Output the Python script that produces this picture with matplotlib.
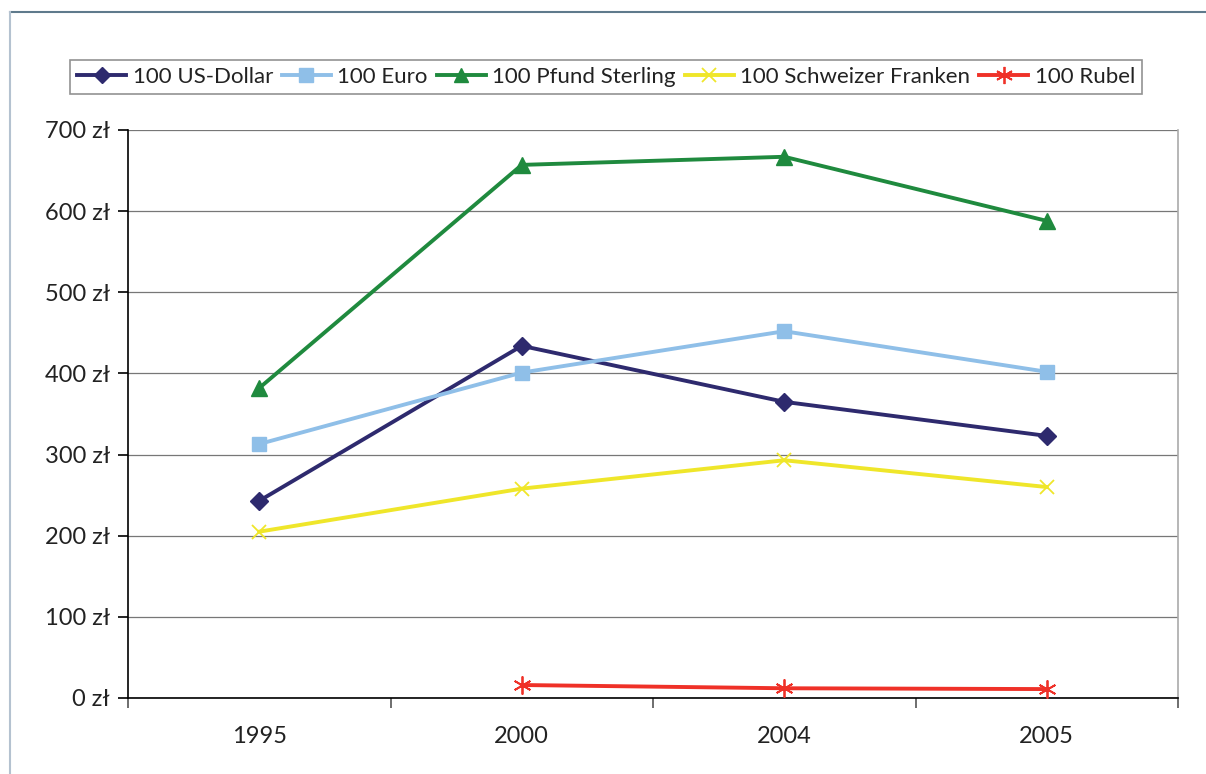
import matplotlib
matplotlib.use("Agg")
import matplotlib.pyplot as plt
from matplotlib.lines import Line2D

plt.rcParams['font.family'] = ['Lato', 'DejaVu Sans']

years = ["1995", "2000", "2004", "2005"]
usd = [243, 434, 365, 323]
eur = [313, 401, 452, 402]
gbp = [382, 657, 667, 588]
chf = [205, 258, 293, 260]
rub = [None, 16, 12, 11]
yticks = [0, 100, 200, 300, 400, 500, 600, 700]

series = [
    ("100 US-Dollar", usd, "#2e2a6e", "D", 9, None),
    ("100 Euro", eur, "#8fbfe8", "s", 10, None),
    ("100 Pfund Sterling", gbp, "#1f8a3e", "^", 11, None),
    ("100 Schweizer Franken", chf, "#efe62a", "x", 10, 1.3),
    ("100 Rubel", rub, "#ef3128", (6, 2, 0), 13, 1.3),
]

fig = plt.figure(figsize=(12.06, 7.74), dpi=100)
ax = fig.add_axes([128/1206, 76/774, 1050/1206, 568/774])

# outer frame lines
fig.add_artist(Line2D([10/1206, 1], [1-12/774, 1-12/774], color="#5f7a8c", lw=1.5, transform=fig.transFigure))
fig.add_artist(Line2D([10/1206, 10/1206], [0, 1-12/774], color="#b4c2d0", lw=1.5, transform=fig.transFigure))

xs = list(range(len(years)))
handles = []
for name, vals, col, mk, ms, mew in series:
    px = [x for x, v in zip(xs, vals) if v is not None]
    py = [v for v in vals if v is not None]
    kw = dict(color=col, lw=2.8, marker=mk, markersize=ms, label=name,
              markerfacecolor=col, markeredgecolor=col, zorder=3)
    if mew is not None:
        kw['markeredgewidth'] = mew
    h, = ax.plot(px, py, **kw)
    handles.append(h)

ax.set_xlim(-0.5, 3.5)
ax.set_ylim(0, 700)
ax.set_yticks(yticks)
ax.set_yticklabels([f"{v} zł" for v in yticks])
ax.set_xticks(xs)
ax.set_xticklabels(years)
ax.set_xticks([-0.5, 0.5, 1.5, 2.5, 3.5], minor=True)
ax.tick_params(axis='x', which='major', length=0, pad=20, labelsize=17, colors="#222222")
ax.tick_params(axis='x', which='minor', length=7, width=1.2, color="#555555", direction='out')
ax.tick_params(axis='y', length=7, width=1.2, direction='out', labelsize=17, pad=6)
ax.tick_params(axis='y', colors="#000000", labelcolor="#222222")
ax.grid(axis='y', color="#777777", lw=0.9, zorder=0)
ax.set_axisbelow(True)
for s in ['top', 'right']:
    ax.spines[s].set_color("#aaaaaa")
    ax.spines[s].set_linewidth(1.2)
ax.spines['top'].set_visible(False)
for s in ['left', 'bottom']:
    ax.spines[s].set_color("#000000")
    ax.spines[s].set_linewidth(1.2)

leg = fig.legend(handles=handles, loc='center', bbox_to_anchor=(606/1206, 1-77/774),
                 ncol=5, frameon=True, fancybox=False, fontsize=16,
                 handlelength=2.2, handletextpad=0.3, columnspacing=0.4,
                 borderpad=0.3, edgecolor="#777777", markerscale=0.95)
leg.get_frame().set_linewidth(1.2)
for t in leg.get_texts():
    t.set_color("#222222")

fig.savefig("out.png", dpi=100)
